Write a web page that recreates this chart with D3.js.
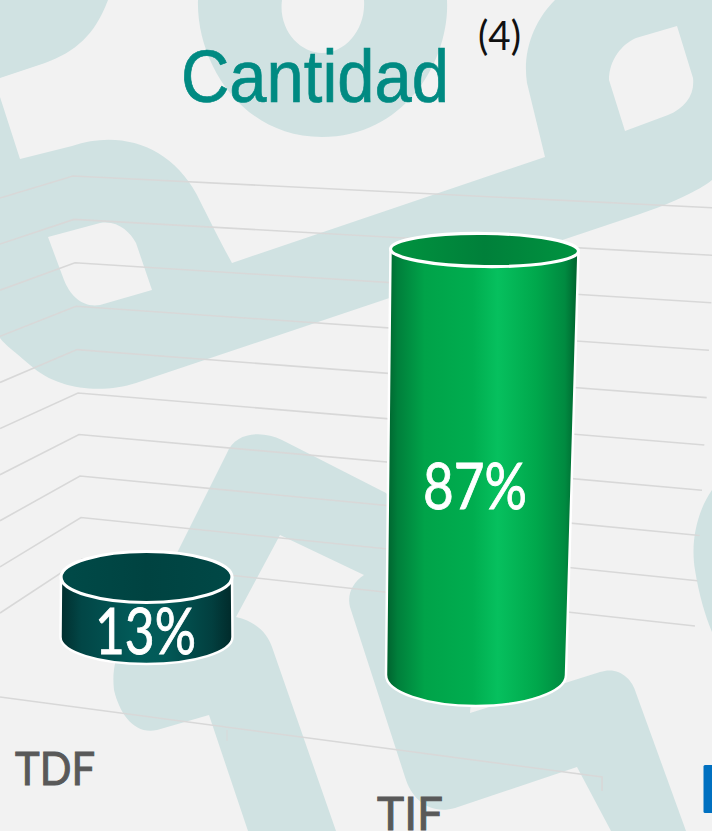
<!DOCTYPE html>
<html><head><meta charset="utf-8">
<script src="https://cdn.jsdelivr.net/npm/d3@7"></script>
<style>html,body{margin:0;padding:0;background:#f2f2f2;overflow:hidden}svg{display:block}</style>
</head><body><div id="chart"></div>
<script>
// --- data ---
const categories = ["TDF", "TIF"];
const shares = [13, 87];
const shareLabels = ["13%", "87%"];
const gridTicks = [10, 20, 30, 40, 50, 60, 70, 80, 90, 100];
const titleText = "Cantidad";
const noteText = "(4)";

// --- scales ---
const W = 712, H = 831;
const height = d3.scaleLinear().domain([13, 87]).range([60, 425]);
const floorY = d3.scaleOrdinal(categories, [637, 675]);
const baseX = d3.scaleOrdinal(categories, [146.5, 476]);
const topX = d3.scaleOrdinal(categories, [146.5, 484.5]);
const baseRx = d3.scaleOrdinal(categories, [86, 90]);
const topRx = d3.scaleOrdinal(categories, [85.5, 94]);
const baseRy = d3.scaleOrdinal(categories, [27, 31]);
const topRy = d3.scaleOrdinal(categories, [25.5, 16.5]);
const tilt = d3.scaleOrdinal(categories, [0, 0.7]);
const labelX = d3.scaleOrdinal(categories, [55, 410]);
const labelY = d3.scaleOrdinal(categories, [785, 830]);
const valueLabelY = d3.scaleOrdinal(categories, [654, 509]);
const valueLabelX = d3.scaleOrdinal(categories, [145.5, 475]);
const valueLabelW = d3.scaleOrdinal(categories, [101, 104]);
const catLabelW = d3.scaleOrdinal(categories, [80, 66]);

const wallY = d3.scaleLinear().domain([10, 100]).range([613, 198]);
const backX = d3.scaleLinear().domain([10, 100]).range([82, 73]);
const backY = d3.scaleLinear().domain([10, 50, 100]).range([559, 393, 176]);
const rightX = d3.scaleLinear().domain([10, 100]).range([695, 716]);
const rightY = d3.scaleLinear().domain([10, 50, 100]).range([626, 445, 208]);

const svg = d3.select("#chart").append("svg").attr("width", W).attr("height", H);
svg.append("rect").attr("width", W).attr("height", H).attr("fill", "#f2f2f2");

const defs = svg.append("defs");
function grad(id, stops) {
  const g = defs.append("linearGradient").attr("id", id).attr("x1", 0).attr("x2", 1).attr("y1", 0).attr("y2", 0);
  stops.forEach(s => g.append("stop").attr("offset", s[0]).attr("stop-color", s[1]));
}
grad("sideTIF", [[0, "#00602e"], [0.06, "#007f3b"], [0.2, "#00a349"], [0.45, "#00ad4f"], [0.58, "#06c05e"], [0.78, "#00a84c"], [0.93, "#008a40"], [1, "#005f2d"]]);
grad("sideTDF", [[0, "#012e2e"], [0.12, "#024646"], [0.45, "#025c5a"], [0.6, "#025a58"], [0.88, "#023f3f"], [1, "#012a2a"]]);
grad("topTIF", [[0, "#00933f"], [0.5, "#00803a"], [1, "#009340"]]);
grad("topTDF", [[0, "#004a48"], [0.5, "#004341"], [1, "#004846"]]);

// --- background logo shapes ---
const logo = svg.append("g").attr("fill", "#d0e2e2").attr("fill-rule", "evenodd");
[
  "M0,0 L108,0 C95,35 75,52 45,63 L0,78 Z",
  "M198,0 C196,60 240,137 322,137 C405,137 450,60 447,0 Z M282,0 C278,30 300,53 322,53 C345,53 366,30 364,0 Z",
  "M0,97 L20,159 L72,146 C120,130 170,145 197,195 C212,225 222,245 232,263 L545,157 L527,83 C522,50 535,20 555,0 L712,0 L712,180 C700,190 670,204 640,214 L136,383 C105,393 60,392 30,365 C15,352 5,345 0,338 Z " +
  "M48,237 L100,223 C118,220 130,232 136,243 L152,290 L100,305 C82,308 70,295 64,280 Z " +
  "M677,26 L693,78 C695,95 685,108 668,115 L625,131 L609,80 C609,60 622,44 636,38 Z",
  "M227,453 C235,432 262,430 282,440 L386,493 L480,600 L470,713 L600,672 C618,666 632,678 636,693 L686,831 L611,831 L577,767 L455,808 C430,815 412,800 405,777 L350,607 C347,595 352,583 364,575 L280,535 L236,617 C258,622 268,635 272,647 L336,831 L248,831 L209,715 L157,730 C135,735 120,715 114,690 C112,672 115,660 122,640 L177,553 Z",
  "M712,490 C698,510 690,540 695,570 C699,595 705,615 712,632 Z"
].forEach(d => logo.append("path").attr("d", d));

// --- gridlines ---
const gridLine = d3.line();
svg.append("g").selectAll("path").data(gridTicks).join("path")
  .attr("d", t => gridLine([[0, wallY(t)], [backX(t), backY(t)], [rightX(t), rightY(t)]]))
  .attr("fill", "none").attr("stroke", "#d8d8d8").attr("stroke-width", 1.6);
const floor = svg.append("g").attr("fill", "none").attr("stroke", "#d8d8d8").attr("stroke-width", 1.6);
floor.append("path").attr("d", "M0,697 L602,777 L602,791");
floor.append("path").attr("d", "M227,730 L227,741").attr("stroke-width", 1);

// --- cylinders ---
const data = categories.map((c, i) => ({ c, v: shares[i], label: shareLabels[i] }));
const cyl = svg.append("g").selectAll("g").data(data).join("g");
function sidePath(d) {
  const tx = topX(d.c), bx = baseX(d.c), fy = floorY(d.c), ty = fy - height(d.v);
  const rt = topRx(d.c), rb = baseRx(d.c);
  return `M${tx - rt},${ty} L${bx - rb},${fy} A${rb},${baseRy(d.c)} 0 0 0 ${bx + rb},${fy} L${tx + rt},${ty} Z`;
}
cyl.append("path").attr("d", sidePath)
  .attr("fill", d => `url(#side${d.c})`)
  .attr("stroke", "#ffffff").attr("stroke-width", 2.5).attr("stroke-linejoin", "round");
cyl.append("ellipse")
  .attr("cx", d => topX(d.c))
  .attr("cy", d => floorY(d.c) - height(d.v))
  .attr("rx", d => topRx(d.c))
  .attr("ry", d => topRy(d.c))
  .attr("transform", d => `rotate(${tilt(d.c)} ${topX(d.c)} ${floorY(d.c) - height(d.v)})`)
  .attr("fill", d => `url(#top${d.c})`)
  .attr("stroke", "#ffffff").attr("stroke-width", 3.2);

cyl.append("text")
  .attr("x", d => valueLabelX(d.c)).attr("y", d => valueLabelY(d.c))
  .attr("text-anchor", "middle").attr("fill", "#ffffff")
  .attr("stroke", "#ffffff").attr("stroke-width", 0.9)
  .attr("font-family", "Lato, 'Open Sans', sans-serif").attr("font-size", 64)
  .attr("textLength", d => valueLabelW(d.c)).attr("lengthAdjust", "spacingAndGlyphs")
  .text(d => d.label);

// --- category labels ---
svg.append("g").selectAll("text").data(categories).join("text")
  .attr("x", c => labelX(c)).attr("y", c => labelY(c))
  .attr("text-anchor", "middle").attr("fill", "#595959")
  .attr("stroke", "#595959").attr("stroke-width", 1)
  .attr("font-family", "Lato, 'Open Sans', sans-serif").attr("font-size", 47)
  .attr("textLength", c => catLabelW(c)).attr("lengthAdjust", "spacingAndGlyphs")
  .text(c => c);

// --- title ---
svg.append("text").attr("x", 315).attr("y", 102).attr("text-anchor", "middle")
  .attr("fill", "#008a82").attr("stroke", "#008a82").attr("stroke-width", 0.7)
  .attr("font-family", "'Liberation Sans', Arial, sans-serif").attr("font-size", 74)
  .attr("textLength", 268).attr("lengthAdjust", "spacingAndGlyphs").text(titleText);
svg.append("text").attr("x", 499.5).attr("y", 50).attr("text-anchor", "middle")
  .attr("fill", "#111111").attr("font-family", "Lato, sans-serif").attr("font-size", 41)
  .attr("textLength", 43).attr("lengthAdjust", "spacingAndGlyphs").text(noteText);

// --- clipped blue mark at the right edge ---
svg.append("rect").attr("x", 703.5).attr("y", 765).attr("width", 14).attr("height", 48).attr("rx", 1.5).attr("fill", "#0070c0");
</script></body></html>
